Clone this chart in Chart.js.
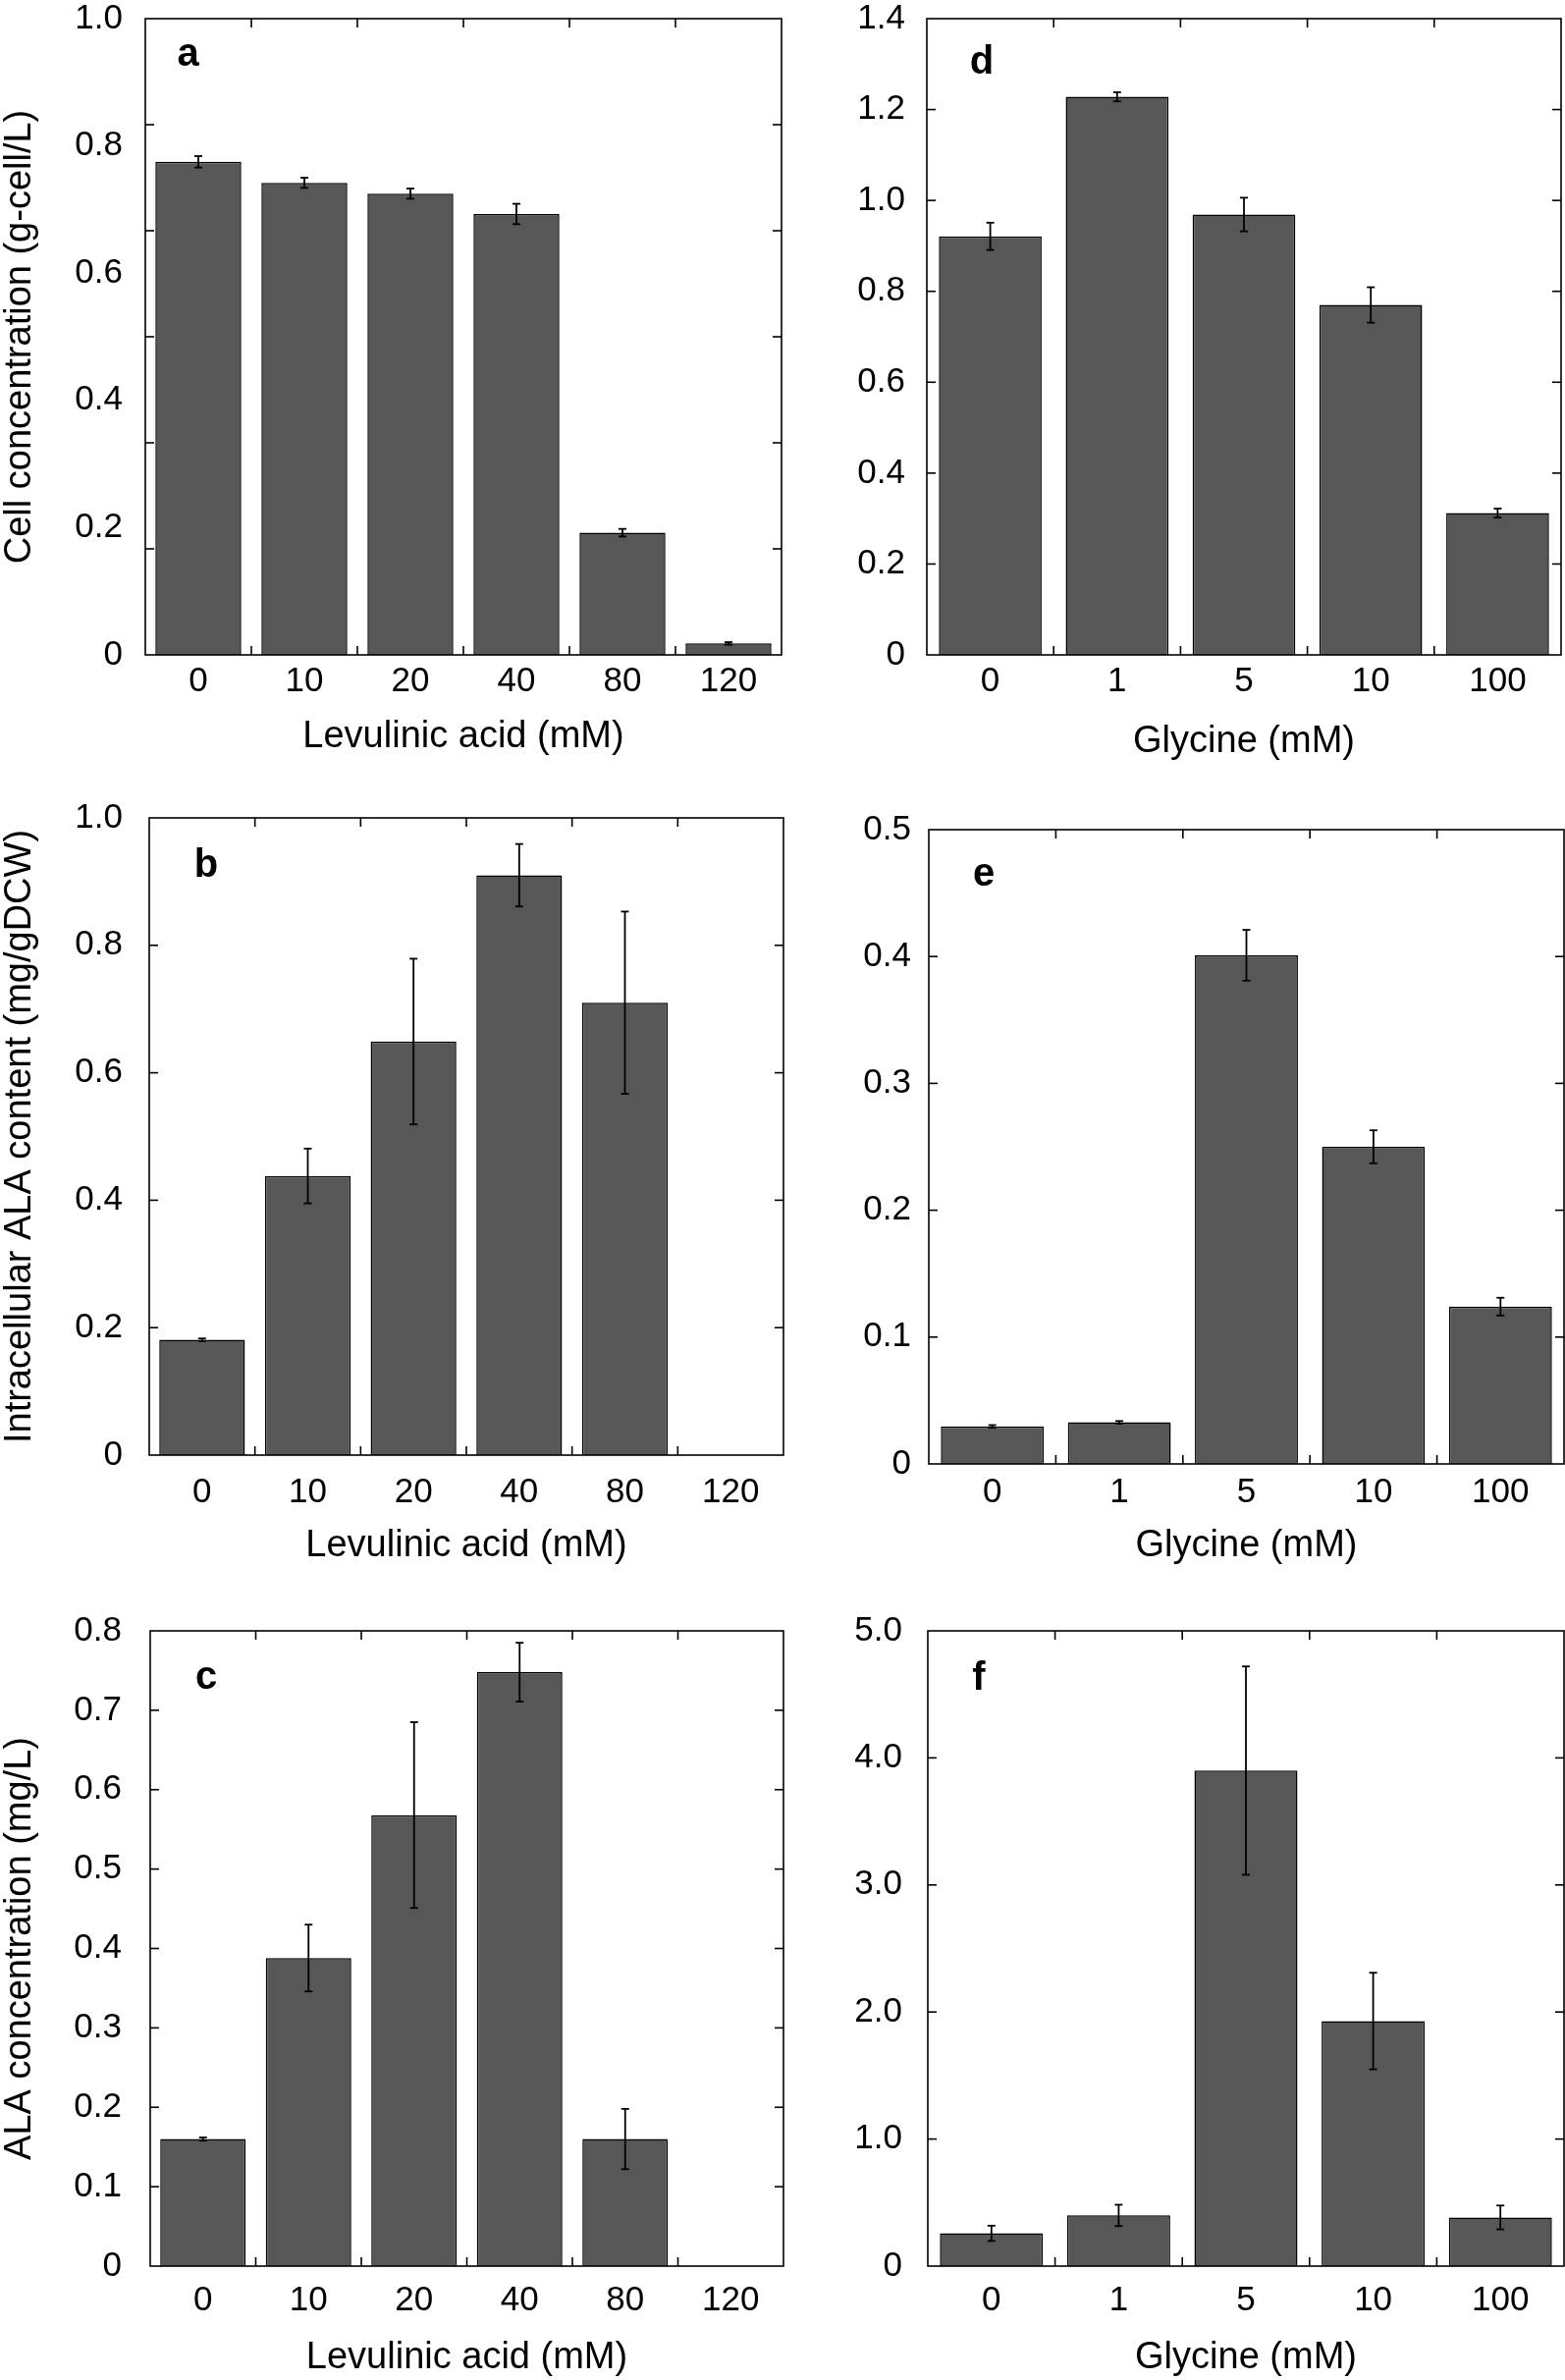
<!DOCTYPE html>
<html>
<head>
<meta charset="utf-8">
<script src="https://cdn.jsdelivr.net/npm/chart.js@4.4.1/dist/chart.umd.min.js"></script>
<style>
body { margin: 0; background: #fff; }
#page { position: relative; width: 1594px; height: 2424px; background: #fff; overflow: hidden; }
#page canvas { position: absolute; }
</style>
</head>
<body>
<div id="page">
<canvas id="panelA"></canvas>
<canvas id="panelB"></canvas>
<canvas id="panelC"></canvas>
<canvas id="panelD"></canvas>
<canvas id="panelE"></canvas>
<canvas id="panelF"></canvas>
</div>
<script>
// categories
const levulinicLabels = ['0', '10', '20', '40', '80', '120'];
const glycineLabels = ['0', '1', '5', '10', '100'];

// levulinic acid series (a, b, c)
const cellLev = [0.775, 0.742, 0.725, 0.693, 0.192, 0.018];
const cellLevErr = [0.009, 0.008, 0.008, 0.016, 0.006, 0.002];
const alaContentLev = [0.181, 0.438, 0.649, 0.910, 0.710, null];
const alaContentLevErr = [0.002, 0.043, 0.130, 0.049, 0.143, null];
const alaConcLev = [0.160, 0.388, 0.568, 0.748, 0.160, null];
const alaConcLevErr = [0.002, 0.042, 0.117, 0.037, 0.038, null];

// glycine series (d, e, f)
const cellGly = [0.921, 1.228, 0.969, 0.770, 0.312];
const cellGlyErr = [0.030, 0.010, 0.037, 0.039, 0.010];
const alaContentGly = [0.0296, 0.0328, 0.401, 0.250, 0.124];
const alaContentGlyErr = [0.001, 0.001, 0.020, 0.013, 0.007];
const alaConcGly = [0.258, 0.399, 3.90, 1.929, 0.383];
const alaConcGlyErr = [0.06, 0.084, 0.82, 0.38, 0.094];

// y axis ranges: [max, step]
const axisA = [1.0, 0.2];
const axisB = [1.0, 0.2];
const axisC = [0.8, 0.1];
const axisD = [1.4, 0.2];
const axisE = [0.5, 0.1];
const axisF = [5.0, 1.0];

const barFill = '#575757';
const tickFont = 35;
const titleFont = 38;

Chart.defaults.font.family = '"Liberation Sans", Arial, Helvetica, sans-serif';
Chart.defaults.color = '#000';

function line(ctx, x1, y1, x2, y2) {
	ctx.beginPath();
	ctx.moveTo(x1, y1);
	ctx.lineTo(x2, y2);
	ctx.stroke();
}

const errorBars = {
	id: 'errorBars',
	afterDatasetsDraw(chart) {
		const ctx = chart.ctx;
		const y = chart.scales.y;
		ctx.save();
		ctx.strokeStyle = '#000';
		ctx.lineWidth = 1.8;
		chart.data.datasets.forEach(function (ds, i) {
			const meta = chart.getDatasetMeta(i);
			meta.data.forEach(function (bar, j) {
				const v = ds.data[j];
				const e = ds.errors[j];
				if (v == null || e == null) {
					return;
				}
				const hi = y.getPixelForValue(v + e);
				const lo = y.getPixelForValue(v - e);
				line(ctx, bar.x, hi, bar.x, lo);
				line(ctx, bar.x - 4, hi, bar.x + 4, hi);
				line(ctx, bar.x - 4, lo, bar.x + 4, lo);
			});
		});
		ctx.restore();
	}
};

// box round the plot, inward ticks on all four sides, panel letter
const frame = {
	id: 'frame',
	afterDatasetsDraw(chart, args, opts) {
		const ctx = chart.ctx;
		const { left, top, right, bottom } = chart.chartArea;
		const x = chart.scales.x;
		const y = chart.scales.y;
		ctx.save();
		ctx.strokeStyle = '#000';
		ctx.lineWidth = 1.6;
		ctx.strokeRect(left, top, right - left, bottom - top);
		for (let i = 1; i < opts.divisions; i++) {
			const py = y.getPixelForValue(y.min + (y.max - y.min) * i / opts.divisions);
			line(ctx, left, py, left + 9, py);
			line(ctx, right, py, right - 9, py);
		}
		for (let i = 1; i < x.ticks.length; i++) {
			const px = (x.getPixelForTick(i - 1) + x.getPixelForTick(i)) / 2;
			line(ctx, px, bottom, px, bottom - 9);
			line(ctx, px, top, px, top + 9);
		}
		ctx.fillStyle = '#000';
		ctx.font = 'bold 40px "Liberation Sans", Arial, sans-serif';
		ctx.textAlign = 'center';
		ctx.textBaseline = 'alphabetic';
		ctx.fillText(opts.letter, left + opts.letterX, top + opts.letterY);
		ctx.restore();
	}
};

function fmt(v) {
	return v === 0 ? '0' : v.toFixed(1);
}

// label overhang must not push the plot area about
function noOverhang(s) {
	s.paddingTop = 0;
	s.paddingBottom = 0;
	s.paddingLeft = 0;
	s.paddingRight = 0;
}

function makePanel(p) {
	const canvas = document.getElementById(p.id);
	canvas.width = p.box[2];
	canvas.height = p.box[3];
	canvas.style.left = p.box[0] + 'px';
	canvas.style.top = p.box[1] + 'px';
	const areaLeft = p.plot[0] - p.box[0];
	const areaTop = p.plot[1] - p.box[1];
	const areaRight = p.plot[2] - p.box[0];
	const areaBottom = p.plot[3] - p.box[1];
	const titleY = p.xTitleY - p.box[1];

	new Chart(canvas, {
		type: 'bar',
		data: {
			labels: p.labels,
			datasets: [{
				data: p.values,
				errors: p.errors,
				backgroundColor: barFill,
				borderColor: '#000',
				borderWidth: 1.5,
				categoryPercentage: 1,
				barPercentage: 0.81
			}]
		},
		options: {
			responsive: false,
			animation: false,
			devicePixelRatio: 1,
			layout: {
				padding: { left: 0, top: areaTop, right: p.box[2] - areaRight, bottom: 0 }
			},
			plugins: {
				legend: { display: false },
				tooltip: { enabled: false },
				frame: { divisions: p.divisions, letter: p.letter, letterX: p.letterPos[0], letterY: p.letterPos[1] }
			},
			scales: {
				x: {
					grid: { display: false, drawTicks: false },
					border: { display: false },
					ticks: { font: { size: tickFont, lineHeight: 1 }, padding: p.xPad, maxRotation: 0, autoSkip: false },
					title: {
						display: true,
						text: p.xTitle,
						font: { size: titleFont, lineHeight: 1 },
						padding: { top: 0, bottom: p.box[3] - titleY - titleFont / 2 }
					},
					afterFit: function (s) {
						s.height = p.box[3] - areaBottom;
						noOverhang(s);
					}
				},
				y: {
					min: 0,
					max: p.axis[0],
					grid: { display: false, drawTicks: false },
					border: { display: false },
					ticks: { stepSize: p.axis[1], padding: p.yPad, font: { size: tickFont, lineHeight: 1 }, callback: fmt },
					title: {
						display: !!p.yTitle,
						text: p.yTitle || '',
						font: { size: titleFont, lineHeight: 1 },
						padding: { top: 2, bottom: 0 }
					},
					afterFit: function (s) {
						s.width = areaLeft;
						noOverhang(s);
					}
				}
			}
		},
		plugins: [errorBars, frame]
	});
}

makePanel({
	id: 'panelA', box: [0, 0, 798, 790], plot: [148, 19, 796, 667],
	labels: levulinicLabels, values: cellLev, errors: cellLevErr, axis: axisA, divisions: 6,
	letter: 'a', letterPos: [43.5, 48], xPad: 10, yPad: 23, xTitleY: 751,
	xTitle: 'Levulinic acid (mM)', yTitle: 'Cell concentration (g-cell/L)'
});
makePanel({
	id: 'panelB', box: [0, 790, 800, 820], plot: [152, 833, 798, 1482],
	labels: levulinicLabels, values: alaContentLev, errors: alaContentLevErr, axis: axisB, divisions: 5,
	letter: 'b', letterPos: [58, 60], xPad: 21, yPad: 27, xTitleY: 1575,
	xTitle: 'Levulinic acid (mM)', yTitle: 'Intracellular ALA content (mg/gDCW)'
});
makePanel({
	id: 'panelC', box: [0, 1610, 800, 814], plot: [153, 1661, 798, 2308],
	labels: levulinicLabels, values: alaConcLev, errors: alaConcLevErr, axis: axisC, divisions: 8,
	letter: 'c', letterPos: [57, 59], xPad: 18, yPad: 29, xTitleY: 2402,
	xTitle: 'Levulinic acid (mM)', yTitle: 'ALA concentration (mg/L)'
});
makePanel({
	id: 'panelD', box: [797, 0, 797, 790], plot: [944, 19, 1590, 667],
	labels: glycineLabels, values: cellGly, errors: cellGlyErr, axis: axisD, divisions: 7,
	letter: 'd', letterPos: [56, 56], xPad: 10, yPad: 22, xTitleY: 756,
	xTitle: 'Glycine (mM)'
});
makePanel({
	id: 'panelE', box: [797, 790, 797, 820], plot: [946, 845, 1593, 1491],
	labels: glycineLabels, values: alaContentGly, errors: alaContentGlyErr, axis: axisE, divisions: 5,
	letter: 'e', letterPos: [56, 57], xPad: 12, yPad: 18, xTitleY: 1575,
	xTitle: 'Glycine (mM)'
});
makePanel({
	id: 'panelF', box: [797, 1610, 797, 814], plot: [945, 1661, 1593, 2308],
	labels: glycineLabels, values: alaConcGly, errors: alaConcGlyErr, axis: axisF, divisions: 5,
	letter: 'f', letterPos: [52, 60], xPad: 18, yPad: 26, xTitleY: 2402,
	xTitle: 'Glycine (mM)'
});
</script>
</body>
</html>
